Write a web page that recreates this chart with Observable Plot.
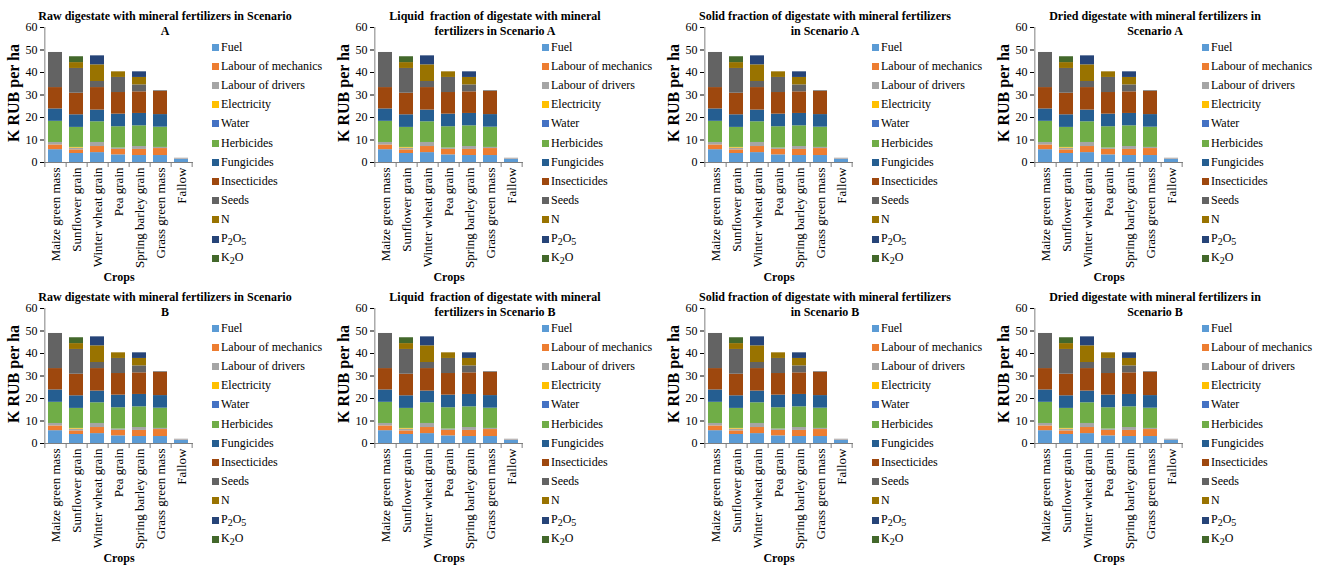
<!DOCTYPE html>
<html>
<head>
<meta charset="utf-8">
<script src="https://cdn.jsdelivr.net/npm/d3@7"></script>
<script src="https://cdn.jsdelivr.net/npm/@observablehq/plot@0.6"></script>
<style>
  html, body { margin: 0; padding: 0; background: #fff; }
  #root { position: relative; width: 1320px; height: 569px; font-family: "Liberation Serif", "Times New Roman", serif; color: #000; }
  .panel { position: absolute; width: 330px; height: 285px; }
  .panel svg { position: absolute; left: 0; top: 0; }
  .title { position: absolute; left: 0; top: 9px; width: 330px; text-align: center; font-weight: bold; font-size: 12px; line-height: 15px; white-space: pre; }
  .ylab { position: absolute; left: 14px; top: 93px; transform: translate(-50%, -50%) rotate(-90deg); font-weight: bold; font-size: 16px; white-space: nowrap; }
  .xlab { position: absolute; left: 119px; top: 277px; transform: translate(-50%, -50%); font-weight: bold; font-size: 12px; white-space: nowrap; }
  .legend { position: absolute; left: 212px; top: 0; }
  .item { position: absolute; left: 0; height: 14px; display: flex; align-items: center; white-space: nowrap; font-size: 12px; }
  .sw { width: 7px; height: 7px; margin-right: 2px; }
  [aria-label^="x-axis"] text { font-size: 13px; }
</style>
</head>
<body>
<div id="root"></div>
<script>
// ---- data ----
const crops = ["Maize green mass", "Sunflower grain", "Winter wheat grain", "Pea grain", "Spring barley grain", "Grass green mass", "Fallow"];
const categories = ["Fuel", "Labour of mechanics", "Labour of drivers", "Electricity", "Water", "Herbicides", "Fungicides", "Insecticides", "Seeds", "N", "P2O5", "K2O"];
const legendLabels = ["Fuel", "Labour of mechanics", "Labour of drivers", "Electricity", "Water", "Herbicides", "Fungicides", "Insecticides", "Seeds", "N", "P<sub>2</sub>O<sub>5</sub>", "K<sub>2</sub>O"];
const colors = ["#5B9BD5", "#ED7D31", "#A5A5A5", "#FFC000", "#4472C4", "#70AD47", "#255E91", "#9E480E", "#636363", "#997300", "#264478", "#43682B"];

// K RUB per ha, per crop (same order as crops)
const fuel         = [5.7, 4.0, 4.4, 3.4, 3.1, 3.1, 1.5];
const mechanics    = [2.1, 1.6, 2.7, 2.4, 2.7, 3.1, 0.1];
const drivers      = [1.1, 0.8, 1.8, 0.6, 1.3, 0.5, 0.3];
const electricity  = [0, 0.3, 0, 0, 0, 0, 0];
const water        = [0, 0, 0, 0, 0, 0, 0];
const herbicides   = [9.4, 8.9, 9.2, 9.5, 9.2, 9.0, 0];
const fungicides   = [5.5, 5.6, 5.2, 5.6, 5.5, 5.6, 0];
const insecticides = [9.5, 9.6, 10.0, 9.6, 9.6, 10.3, 0];
const seeds        = [15.6, 11.0, 2.7, 6.7, 3.1, 0.3, 0];
const nitrogen     = [0, 2.6, 7.4, 2.5, 3.3, 0, 0];
const p2o5         = [0, 0, 4.0, 0, 2.5, 0, 0];
const k2o          = [0, 2.6, 0, 0, 0, 0, 0];
const series = [fuel, mechanics, drivers, electricity, water, herbicides, fungicides, insecticides, seeds, nitrogen, p2o5, k2o];

const yTicks = [0, 10, 20, 30, 40, 50, 60];

const titles = [
  "Raw digestate with mineral fertilizers in Scenario\nA",
  "Liquid  fraction of digestate with mineral\nfertilizers in Scenario A",
  "Solid fraction of digestate with mineral fertilizers\nin Scenario A",
  "Dried digestate with mineral fertilizers in\nScenario A",
  "Raw digestate with mineral fertilizers in Scenario\nB",
  "Liquid  fraction of digestate with mineral\nfertilizers in Scenario B",
  "Solid fraction of digestate with mineral fertilizers\nin Scenario B",
  "Dried digestate with mineral fertilizers in\nScenario B"
];

// ---- drawing ----
const W = 330, H = 285, ML = 44, MR = 137, MT = 27, MB = 123;
const step = (W - ML - MR) / crops.length;
const table = categories.flatMap((c, i) => crops.map((crop, j) => ({crop, category: c, value: series[i][j]})));

const root = document.getElementById("root");
titles.forEach((t, k) => {
  const col = k % 4, row = Math.floor(k / 4);
  const panel = document.createElement("div");
  panel.className = "panel";
  panel.style.left = (col * 330) + "px";
  panel.style.top = (row * 281) + "px";

  const svg = Plot.plot({
    width: W, height: H,
    marginLeft: ML, marginRight: MR, marginTop: MT, marginBottom: MB,
    style: {background: "transparent", fontFamily: "Liberation Serif, Times New Roman, serif", fontSize: "12px", color: "#000", overflow: "visible"},
    x: {domain: crops, paddingInner: 0.32, paddingOuter: 0.16, tickRotate: -90, tickSize: 0, tickPadding: 5, label: null},
    y: {domain: [0, 60], ticks: yTicks, tickSize: 4, tickPadding: 3, label: null},
    color: {domain: categories, range: colors},
    marks: [
      Plot.barY(table, {x: "crop", y: "value", fill: "category"}),
      Plot.ruleY([0], {stroke: "#7f7f7f"}),
      Plot.ruleX([crops[0]], {y1: 60, y2: 0, dx: -step / 2, insetBottom: -5, stroke: "#7f7f7f"}),
      Plot.ruleX(crops, {y1: 0, y2: 0, dx: step / 2, insetBottom: -5, stroke: "#7f7f7f"})
    ]
  });
  panel.appendChild(svg);

  const title = document.createElement("div");
  title.className = "title";
  title.textContent = t;
  panel.appendChild(title);

  const ylab = document.createElement("div");
  ylab.className = "ylab";
  ylab.textContent = "K RUB per ha";
  panel.appendChild(ylab);

  const xlab = document.createElement("div");
  xlab.className = "xlab";
  xlab.textContent = "Crops";
  panel.appendChild(xlab);

  const legend = document.createElement("div");
  legend.className = "legend";
  legendLabels.forEach((lab, i) => {
    const it = document.createElement("div");
    it.className = "item";
    it.style.top = (47 + i * 19.2 - 7) + "px";
    it.innerHTML = `<span class="sw" style="background:${colors[i]}"></span><span>${lab}</span>`;
    legend.appendChild(it);
  });
  panel.appendChild(legend);

  root.appendChild(panel);
});
</script>
</body>
</html>
